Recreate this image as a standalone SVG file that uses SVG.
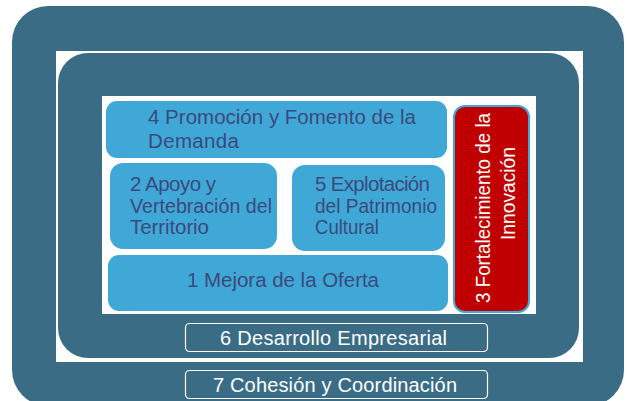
<svg xmlns="http://www.w3.org/2000/svg" width="627" height="401" viewBox="0 0 627 401">
<style>
.dark{fill:#3a6d85}
.blue{fill:#40a8d7}
.t{font-family:"Liberation Sans",Arial,sans-serif;font-size:20.5px;fill:#3b4a7c}
.w{font-family:"Liberation Sans",Arial,sans-serif;font-size:20px;fill:#ffffff}
.frame{fill:none;stroke:#ffffff;stroke-width:1.2}
</style>
<rect width="627" height="401" fill="#ffffff"/>
<g id="outer">
<rect class="dark" x="12" y="6" width="612" height="400" rx="36"/>
<rect x="56" y="51" width="527" height="311" fill="#ffffff"/>
</g>
<g id="inner">
<rect class="dark" x="58" y="53" width="521" height="305" rx="30"/>
<rect x="102" y="96" width="434" height="218" fill="#ffffff"/>
</g>
<g id="connectors"></g>
<g id="n4">
<rect class="blue" x="106" y="101" width="341" height="57" rx="11"/>
<text class="t" x="148" y="124" textLength="268" lengthAdjust="spacing">4 Promoción y Fomento de la</text>
<text class="t" x="148" y="148" textLength="91" lengthAdjust="spacing">Demanda</text>
</g>
<g id="n2">
<rect class="blue" x="110" y="163" width="167" height="86" rx="13"/>
<text class="t" x="130" y="191" textLength="86" lengthAdjust="spacing">2 Apoyo y</text>
<text class="t" x="130" y="213" textLength="142" lengthAdjust="spacingAndGlyphs">Vertebración del</text>
<text class="t" x="130" y="234" textLength="79" lengthAdjust="spacing">Territorio</text>
</g>
<g id="n5">
<rect class="blue" x="292" y="165" width="153" height="86" rx="13"/>
<text class="t" x="315" y="191" textLength="115" lengthAdjust="spacing">5 Explotación</text>
<text class="t" x="315" y="213" textLength="122" lengthAdjust="spacingAndGlyphs">del Patrimonio</text>
<text class="t" x="315" y="234" textLength="64" lengthAdjust="spacingAndGlyphs">Cultural</text>
</g>
<g id="n1">
<rect class="blue" x="108" y="255" width="340" height="56" rx="11"/>
<text class="t" x="187" y="287" textLength="192" lengthAdjust="spacing">1 Mejora de la Oferta</text>
</g>
<g id="n3">
<rect x="454" y="106" width="75" height="206" rx="11" fill="#c00000" stroke="#40a8d7" stroke-width="2"/>
<text class="w" transform="translate(490,303) rotate(-90)" textLength="190" lengthAdjust="spacingAndGlyphs">3 Fortalecimiento de la</text>
<text class="w" transform="translate(515,240) rotate(-90)" textLength="93" lengthAdjust="spacingAndGlyphs">Innovación</text>
</g>
<g id="n6">
<rect class="frame" x="185.5" y="323.5" width="302" height="28" rx="4"/>
<text class="w" x="220" y="345" textLength="227" lengthAdjust="spacing">6 Desarrollo Empresarial</text>
</g>
<g id="n7">
<rect class="frame" x="185.5" y="370.5" width="302" height="28" rx="4"/>
<text class="w" x="213" y="392" textLength="244" lengthAdjust="spacing">7 Cohesión y Coordinación</text>
</g>
</svg>
